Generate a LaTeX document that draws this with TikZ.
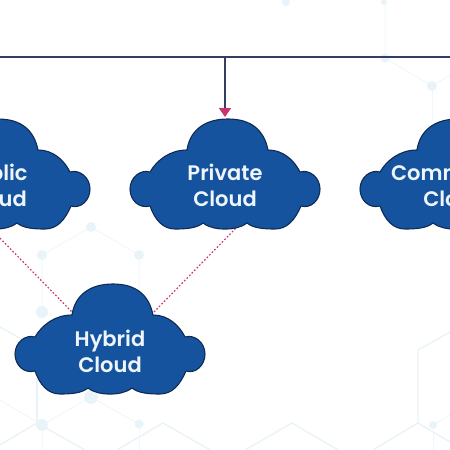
\documentclass[tikz,border=0pt]{standalone}
\usepackage{fontspec}
\setmainfont{Poppins}[FontFace={sb}{n}{Font=* SemiBold}]
\usetikzlibrary{arrows.meta}
\definecolor{cloudfill}{HTML}{16539F}
\definecolor{cloudline}{HTML}{0E2A55}
\definecolor{cloudtext}{HTML}{EEF5FB}
\definecolor{navyline}{HTML}{333E62}
\definecolor{pinktip}{HTML}{C8336E}
\definecolor{hexthick}{HTML}{E9F3F7}
\definecolor{hexthin}{HTML}{F1F7FA}
\definecolor{hexdot}{HTML}{E9F4F9}
\tikzset{
  x=1pt,y=-1pt,
  cloudshape/.style={fill=cloudfill,draw=cloudline,line width=1.1pt},
  cloudlabel/.style={text=cloudtext,align=center,font=\fontsize{21}{26}\selectfont\fontseries{sb}\selectfont,inner sep=0pt},
  hexa/.style={draw=hexthick,line width=1.4pt},
  hexb/.style={draw=hexthin,line width=1pt},
  hexd/.style={fill=hexdot,draw=none},
  main/.style={draw=navyline,line width=1.5pt},
  link/.style={draw=pinktip,line width=1.2pt,dash pattern=on 1.6pt off 2pt},
  pics/cloud/.style={code={
    \path[cloudshape] (-38,-24) .. controls (-35,-44) and (-20,-55) .. (3,-55)
      .. controls (26,-55) and (39,-44) .. (43,-24)
      .. controls (58,-24) and (69,-14) .. (75,-2)
      .. controls (85,-5) and (95,4) .. (95,15)
      .. controls (95,26) and (86,35) .. (76,32)
      .. controls (70,46) and (62,55) .. (50,55)
      .. controls (38,55) and (28,54) .. (22,49)
      .. controls (15,54) and (8,55) .. (0,55)
      .. controls (-8,55) and (-15,54) .. (-22,49)
      .. controls (-28,54) and (-38,55) .. (-50,55)
      .. controls (-62,55) and (-70,46) .. (-75,32)
      .. controls (-86,35) and (-95,26) .. (-95,15)
      .. controls (-95,4) and (-85,-5) .. (-75,-2)
      .. controls (-68,-14) and (-55,-24) .. (-38,-24) -- cycle;
  }}
}
\begin{document}
\begin{tikzpicture}
\useasboundingbox (0,0) rectangle (450,450);
\clip (0,0) rectangle (450,450);
% background network
\path[hexa] (245,450) -- (292,423) -- (338,450);
\path[hexa] (373,450) -- (418,423) -- (418,350) -- (450,332);
\path[hexa] (418,423) -- (450,442);
\path[hexa] (117,450) -- (163,423) -- (210,450);
\path[hexa] (0,445) -- (37,423) -- (85,450);
\path[hexa] (0,327) -- (25,341);
\path[hexa] (37,423) -- (37,378);
\path[hexb] (42,312) -- (42,255) -- (91,227) -- (139,255) -- (139,340);
\path[hexb] (0,400) -- (42,425) -- (91,397) -- (139,424);
\path[hexb] (42,425) -- (42,450);
\path[hexb] (139,424) -- (139,450);
\path[hexb] (433,425) -- (433,450);
\path[hexb] (433,425) -- (450,415);
\path[hexb] (385,0) -- (385,58) -- (432,86) -- (450,75);
\path[hexb] (432,86) -- (432,120);
\foreach \px/\py/\pr in {91/227/5,42/255/5,139/255/5,42/312/6,42/425/6,91/397/7,139/424/4.5,433/425/4,286/2/4,384/2/3,385/58/4.5,432/86/5}
  \path[hexd] (\px,\py) circle[radius=\pr];
% connectors
\coordinate (busL) at (0,57);
\coordinate (busR) at (450,57);
\coordinate (busT) at (225,57);
\coordinate (privTop) at (225,117);
\coordinate (pubBot) at (-5,233);
\coordinate (hybL) at (72,312);
\coordinate (hybR) at (154,312);
\coordinate (privBot) at (236,228);
\path[link] (pubBot) -- (hybL);
\path[link] (hybR) -- (privBot);
\path[main] (busL) -- (busR);
\path[main,-{Triangle[length=9pt,width=12pt,fill=pinktip,color=pinktip]}] (busT) -- (privTop);
% clouds
\pic at (-5,174) {cloud};
\pic at (225,174) {cloud};
\pic at (455,174) {cloud};
\pic at (110,339) {cloud};
\node[cloudlabel] (public) at (-5,185) {Public\\Cloud};
\node[cloudlabel] (private) at (225,185) {Private\\Cloud};
\node[cloudlabel] (community) at (455,185) {Community\\Cloud};
\node[cloudlabel] (hybrid) at (110,351) {Hybrid\\Cloud};
\end{tikzpicture}
\end{document}
